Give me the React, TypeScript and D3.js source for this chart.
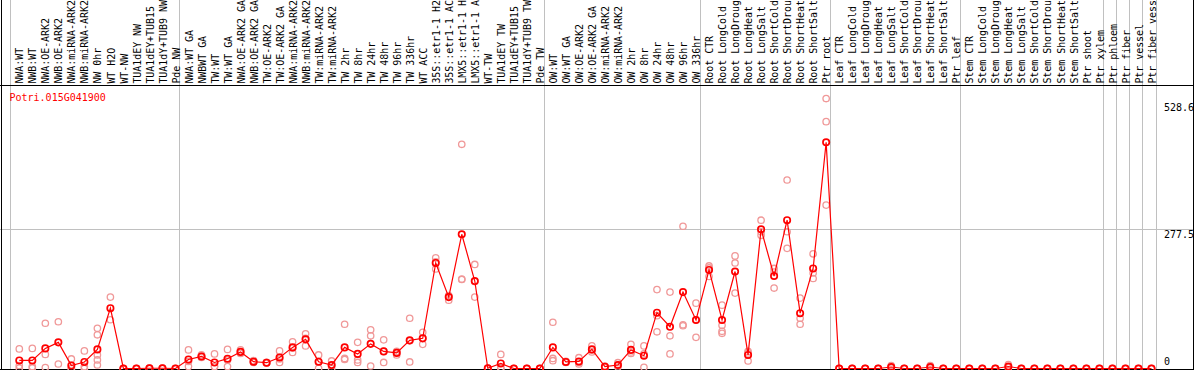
import React from "react";
import * as d3 from "d3";

const geneId = "Potri.015G041900";

const categories: string[] = [
  "NWA:WT", "NWB:WT", "NWA:OE-ARK2", "NWB:OE-ARK2", "NWA:miRNA-ARK2", "NWB:miRNA-ARK2",
  "NW 0hr", "WT H2O", "WT-NW", "TUA1dEY NW", "TUA1dEY+TUB15", "TUA1dY+TUB9 NW", "Pde NW",
  "NWA:WT GA", "NWBWT GA", "TW:WT", "TW:WT GA", "NWA:OE-ARK2 GA", "NWB:OE-ARK2 GA",
  "TW:OE-ARK2", "TW:OE-ARK2 GA", "NWA:miRNA-ARK2", "NWB:miRNA-ARK2", "TW:miRNA-ARK2",
  "TW:miRNA-ARK2", "TW 2hr", "TW 8hr", "TW 24hr", "TW 48hr", "TW 96hr", "TW 336hr",
  "WT ACC", "35S::etr1-1 H2", "35S::etr1-1 AC", "LMX5::etr1-1 H", "LMX5::etr1-1 A",
  "WT-TW", "TUA1dEY TW", "TUA1dEY+TUB15", "TUA1dY+TUB9 TW", "Pde TW",
  "OW:WT", "OW:WT GA", "OW:OE-ARK2", "OW:OE-ARK2 GA", "OW:miRNA-ARK2", "OW:miRNA-ARK2",
  "OW 2hr", "OW 8hr", "OW 24hr", "OW 48hr", "OW 96hr", "OW 336hr",
  "Root CTR", "Root LongCold", "Root LongDroug", "Root LongHeat", "Root LongSalt",
  "Root ShortCold", "Root ShortDrou", "Root ShortHeat", "Root ShortSalt", "Ptr root",
  "Leaf CTR", "Leaf LongCold", "Leaf LongDroug", "Leaf LongHeat", "Leaf LongSalt",
  "Leaf ShortCold", "Leaf ShortDrou", "Leaf ShortHeat", "Leaf ShortSalt", "Ptr leaf",
  "Stem CTR", "Stem LongCold", "Stem LongDroug", "Stem LongHeat", "Stem LongSalt",
  "Stem ShortCold", "Stem ShortDrou", "Stem ShortHeat", "Stem ShortSalt", "Ptr shoot",
  "Ptr xylem", "Ptr phloem", "Ptr fiber", "Ptr vessel", "Ptr fiber vess",
];

const means: number[] = [
  16, 16, 40, 52, 6, 13, 38, 120, 0, 0, 0.5, 0.5, 0,
  18, 24, 12, 19.5, 33, 13.5, 11.5, 22, 42, 58, 13.5, 7, 42, 29, 49, 34, 31, 56, 60,
  210, 142, 267, 174, 0.5, 10, 0, 0, 0,
  42, 13, 14, 38, 3.6, 7, 37, 25.5, 111, 83, 152, 96.5,
  196, 96.5, 193, 27, 277, 184, 295, 110, 199, 450,
  0, 0, 0, 0, 3, 0, 0, 3, 0, 0,
  0, 0, 0, 4, 0, 0, 0, 0, 0, 0, 0,
  0, 0, 0, 0,
];

const replicates: number[][] = [
  [39, 6, 1], [40, 4, 1], [90, 28, 2], [93, 9], [19, 0.5, 0], [35, 4, 0],
  [80, 67, 27, 17, 7], [142, 97], [0, 0, 0], [0, 0, 0], [1, 0.5, 0], [1, 0.5, 0], [0, 0, 0],
  [37, 4, 14], [27, 22, 24], [29, 4, 4], [38, 4, 17], [37, 30, 33], [15.5, 12, 13],
  [11.5, 11, 12], [35, 12, 19], [53, 32, 41], [69, 45, 60], [27, 0.5, 13], [15, 0, 6],
  [88, 18, 20], [52, 17, 12], [77, 65, 5], [57, 12, 34], [27, 33, 34], [100, 13, 55],
  [72, 48, 60], [220, 198, 212], [144, 136, 145], [446, 177, 178], [207, 142, 173],
  [0, 1, 0], [28, 0.5, 2], [0, 0, 0], [0, 0, 0], [0, 0, 0],
  [92, 20, 15.5], [12, 14, 13], [21.5, 9, 12], [45, 33, 37], [5, 2, 3], [11.5, 3, 7],
  [48, 30, 33], [45, 2.4, 29], [157, 105, 73], [152, 65, 29], [283, 87, 85], [130, 62, 97],
  [204, 183, 200], [126, 86, 74, 70], [224, 210, 150], [31, 15, 34], [295, 265, 272],
  [199, 160, 192], [375, 272, 239], [140, 100, 88], [228, 190, 179], [537, 491, 325],
  [0, 0, 0], [0, 0, 0], [0, 0, 0], [0, 0, 0], [6, 2, 1], [0, 0, 0], [0, 0, 0], [6, 2, 1],
  [0, 0, 0], [0, 0, 0],
  [0, 0, 0], [0, 0, 0], [0, 0, 0], [8, 2, 2], [0, 0, 0], [0, 0, 0], [0, 0, 0], [0, 0, 0],
  [0, 0, 0], [0, 0, 0], [0, 0, 0],
  [0, 0, 0], [0, 0, 0], [0, 0, 0], [0, 0, 0],
];

// group boundaries (category index where a separator line is drawn)
const groupBreaks: number[] = [0, 13, 41, 53, 63, 73, 84, 85, 86, 87, 88];
const yTicks: number[] = [0, 277.5, 528.6];

const W = 1194;
const H = 370;
const HEADER = 85.5;
const FONT = "'DejaVu Sans Mono', 'Liberation Mono', monospace";

export default function App() {
  const idx = categories.map((_, i) => i);
  const x = d3.scaleBand<number>().domain(idx).range([10.3, 1155.5]).paddingInner(0).paddingOuter(0);
  const step = x.step();
  const px = (i: number) => (x(i) as number) + 9;
  const sepX = (b: number) => Math.round(10.3 + b * step) + 0.5;
  const y = d3.scaleLinear().domain([0, 277.5]).range([368.5, 229]);

  const line = d3
    .line<number>()
    .x((_, i) => px(i))
    .y((d) => y(d));

  const repColor = "#f09898";

  return (
    <svg
      width={W}
      height={H}
      style={{ position: "absolute", left: 0, top: 0, background: "#fff" }}
      fontFamily={FONT}
    >
      <rect x={0} y={0} width={W} height={H} fill="#fff" />
      {/* separators */}
      {groupBreaks.map((b) => (
        <line key={"s" + b} x1={sepX(b)} x2={sepX(b)} y1={0} y2={H} stroke="#c0c0c0" strokeWidth={1} />
      ))}
      {/* horizontal grid at mid tick */}
      <line x1={0} x2={1193} y1={Math.round(y(277.5)) + 0.5} y2={Math.round(y(277.5)) + 0.5} stroke="#c0c0c0" strokeWidth={1} />
      {/* frame */}
      <line x1={1.5} x2={1.5} y1={0} y2={H} stroke="#000" strokeWidth={1} />
      <line x1={1193.5} x2={1193.5} y1={0} y2={H} stroke="#000" strokeWidth={1} />
      <line x1={0} x2={W} y1={HEADER} y2={HEADER} stroke="#000" strokeWidth={1} />
      <line x1={0} x2={W} y1={369.5} y2={369.5} stroke="#000" strokeWidth={1} />
      {/* category labels */}
      {categories.map((c, i) => (
        <text
          key={"l" + i}
          transform={`translate(${px(i) + 0.5},83.6) rotate(-90)`}
          dy="0.36em"
          fontSize={10}
          letterSpacing={-0.06}
          fill="#000"
        >
          {c}
        </text>
      ))}
      {/* gene id */}
      <text x={9.5} y={101} fontSize={10} fill="#ff0000">
        {geneId}
      </text>
      {/* y tick labels */}
      {yTicks.map((t) => (
        <text key={"t" + t} x={1164} y={t === 0 ? y(t) - 3.5 : y(t) + 8.5} fontSize={10} fill="#000">
          {String(t)}
        </text>
      ))}
      {/* replicates */}
      {replicates.map((reps, i) =>
        reps.map((v, j) => (
          <circle key={`r${i}-${j}`} cx={px(i)} cy={y(v)} r={3.2} fill="none" stroke={repColor} strokeWidth={1.3} />
        ))
      )}
      {/* mean line */}
      <path d={line(means) || ""} fill="none" stroke="#ff0000" strokeWidth={1.2} />
      {/* means */}
      {means.map((v, i) => (
        <circle key={"m" + i} cx={px(i)} cy={y(v)} r={3.2} fill="none" stroke="#ff0000" strokeWidth={1.7} />
      ))}
    </svg>
  );
}
